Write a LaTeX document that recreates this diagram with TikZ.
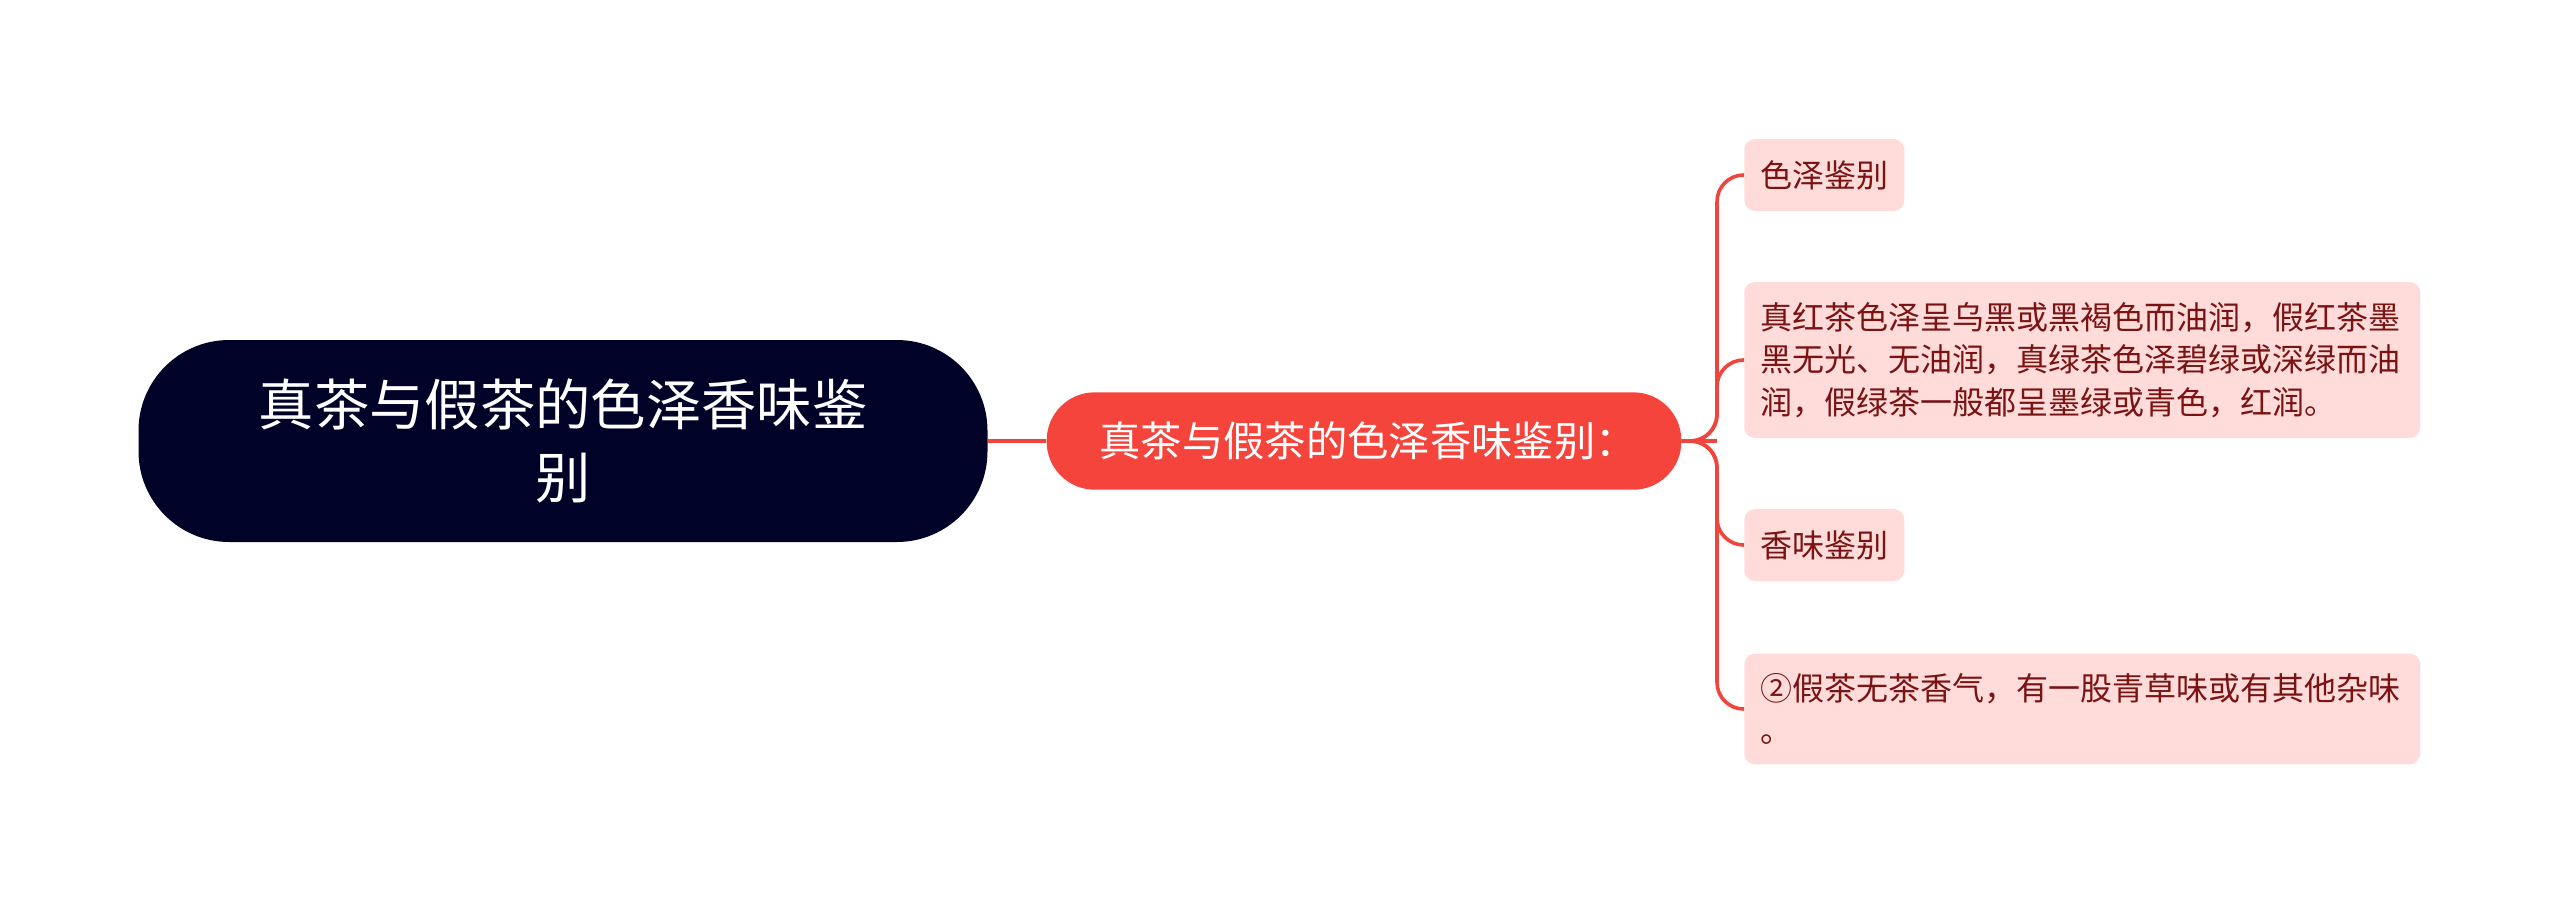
\documentclass[tikz,border=0pt]{standalone}
\usepackage{fontspec}
\setmainfont{Noto Sans CJK SC}
\definecolor{rootbg}{HTML}{000327}
\definecolor{midbg}{HTML}{F5443B}
\definecolor{leafbg}{HTML}{FFDBDA}
\definecolor{leaftx}{HTML}{7A1414}
\definecolor{conn}{HTML}{F0453D}
\begin{document}
\begin{tikzpicture}[x=0.75pt,y=-0.75pt,
  rootbox/.style={fill=rootbg,text=white,rounded corners=68pt,minimum width=636.75pt,minimum height=151.5pt,align=center,font=\fontsize{41.5pt}{55pt}\selectfont,inner sep=0pt},
  midbox/.style={fill=midbg,text=white,rounded corners=36pt,minimum width=476pt,minimum height=73pt,align=center,font=\fontsize{31pt}{38pt}\selectfont,inner sep=0pt},
  leafbox/.style={fill=leafbg,text=leaftx,rounded corners=8pt,align=left,font=\fontsize{24pt}{31.8pt}\selectfont,inner xsep=12pt,inner ysep=0pt,minimum height=54pt},
  link/.style={draw=conn,line width=2.7pt},
  branch/.style={link,rounded corners=20pt}]
\useasboundingbox (0,0) rectangle (2560,904);
\node[rootbox] (root) at (563,441) {真茶与假茶的色泽香味鉴\\别};
\node[midbox] (mid) at (1364,441) {\hspace*{6pt}真茶与假茶的色泽香味鉴别：};
\node[leafbox,anchor=west] (l1) at (1744,175) {色泽鉴别};
\node[leafbox,anchor=west,text width=483pt,minimum height=117pt] (l2) at (1744,360) {真红茶色泽呈乌黑或黑褐色而油润，假红茶墨\\黑无光、无油润，真绿茶色泽碧绿或深绿而油\\润，假绿茶一般都呈墨绿或青色，红润。};
\node[leafbox,anchor=west] (l3) at (1744,545) {香味鉴别};
\node[leafbox,anchor=west,text width=483pt,minimum height=83pt] (l4) at (1744,709) {②假茶无茶香气，有一股青草味或有其他杂味\\。};
\coordinate (trunk) at (1717,441);
\draw[link] (root.east) -- (mid.west);
\draw[link] (mid.east) -- (trunk);
\foreach \l in {l1,l2,l3,l4}{
  \draw[branch] (mid.east) -- (trunk) |- (\l.west);
}
\end{tikzpicture}
\end{document}
